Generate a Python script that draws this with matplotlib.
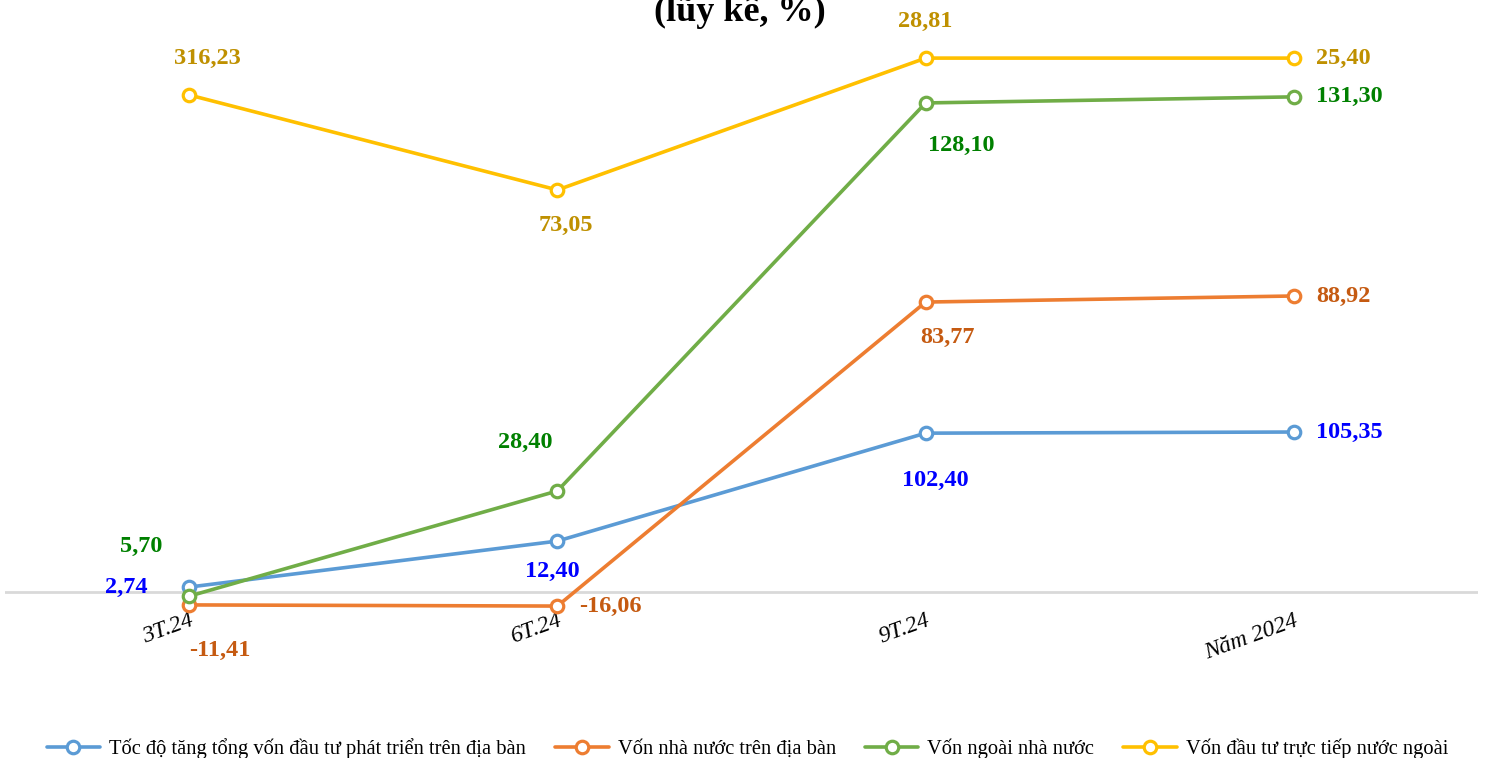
import numpy as np
import matplotlib.pyplot as plt

plt.rcParams['font.family'] = ['Liberation Serif', 'DejaVu Serif']

# Kỳ báo cáo
categories = ['3T.24', '6T.24', '9T.24', 'Năm 2024']

# Nhãn số liệu (lũy kế, %)
lbl_total = [2.74, 12.40, 102.40, 105.35]
lbl_state = [-11.41, -16.06, 83.77, 88.92]
lbl_private = [5.70, 28.40, 128.10, 131.30]
lbl_fdi = [316.23, 73.05, 28.81, 25.40]

# Vị trí điểm trên biểu đồ gốc (ước lượng theo hình, thang tùy ý)
pos_total = [1.3, 13.4, 41.8, 42.1]
pos_state = [-3.4, -3.7, 76.3, 77.9]
pos_private = [-1.1, 26.6, 128.7, 130.3]
pos_fdi = [130.8, 105.8, 140.5, 140.5]

names = ['Tốc độ tăng tổng vốn đầu tư phát triển trên địa bàn',
         'Vốn nhà nước trên địa bàn',
         'Vốn ngoài nhà nước',
         'Vốn đầu tư trực tiếp nước ngoài']
line_colors = ['#5B9BD5', '#ED7D31', '#70AD47', '#FFC000']
text_colors = ['#0000FF', '#C55A11', '#008000', '#BF9000']

# vị trí nhãn: (dx px, dy px, ha) cho từng điểm
offsets = [
    [(-42, 0, 'right'), (-5, -30, 'center'), (10, -47, 'center'), (22, 0, 'left')],
    [(0, -46, 'left'), (22, 0, 'left'), (22, -35, 'center'), (22, 0, 'left')],
    [(-48, 50, 'center'), (-32, 48, 'center'), (36, -43, 'center'), (22, 0, 'left')],
    [(18, 37, 'center'), (8, -35, 'center'), (0, 37, 'center'), (22, 0, 'left')],
]

W, H = 1486, 758
fig = plt.figure(figsize=(W / 100, H / 100), dpi=100)
# trục: x từ 5 đến 1478 px, y từ 30 đến 690 px
ax = fig.add_axes([5 / W, (H - 690) / H, 1473 / W, 660 / H])
ax.set_xlim(-0.5, 3.5)
ax.set_ylim(-98 / 3.8, 562 / 3.8)

x = np.arange(len(categories))
all_pos = [pos_total, pos_state, pos_private, pos_fdi]
all_lbl = [lbl_total, lbl_state, lbl_private, lbl_fdi]

ax.axhline(0, color='#D9D9D9', lw=2, zorder=1)

for i in range(4):
    ax.plot(x, all_pos[i], color=line_colors[i], lw=2.6, marker='o', ms=9,
            mfc='white', mec=line_colors[i], mew=2.3, label=names[i], zorder=3 + i * 0.1,
            solid_capstyle='round')
    for j in range(4):
        dx, dy, ha = offsets[i][j]
        txt = f'{all_lbl[i][j]:.2f}'.replace('.', ',')
        ax.annotate(txt, (x[j], all_pos[i][j]), xytext=(dx * 0.72, dy * 0.72),
                    textcoords='offset points', ha=ha, va='center',
                    fontsize=17.5, fontweight='bold', color=text_colors[i])

for s in ax.spines.values():
    s.set_visible(False)
ax.set_yticks([])
ax.set_xticks([])
for j, c in enumerate(categories):
    ax.annotate(c, (x[j], 0), xytext=(0, -13), textcoords='offset points',
                ha='right', va='top', rotation=20, rotation_mode='anchor',
                fontsize=17, fontstyle='italic')

fig.text(0.498, 1 - 21 / H, '(lũy kế, %)', ha='center', va='baseline',
         fontsize=26, fontweight='bold')

fig.legend(loc='lower center', bbox_to_anchor=(0.503, -0.026), ncol=4, frameon=False,
           fontsize=14.8, handlelength=2.6, columnspacing=1.4, handletextpad=0.45)

fig.savefig('out.png', dpi=100)
